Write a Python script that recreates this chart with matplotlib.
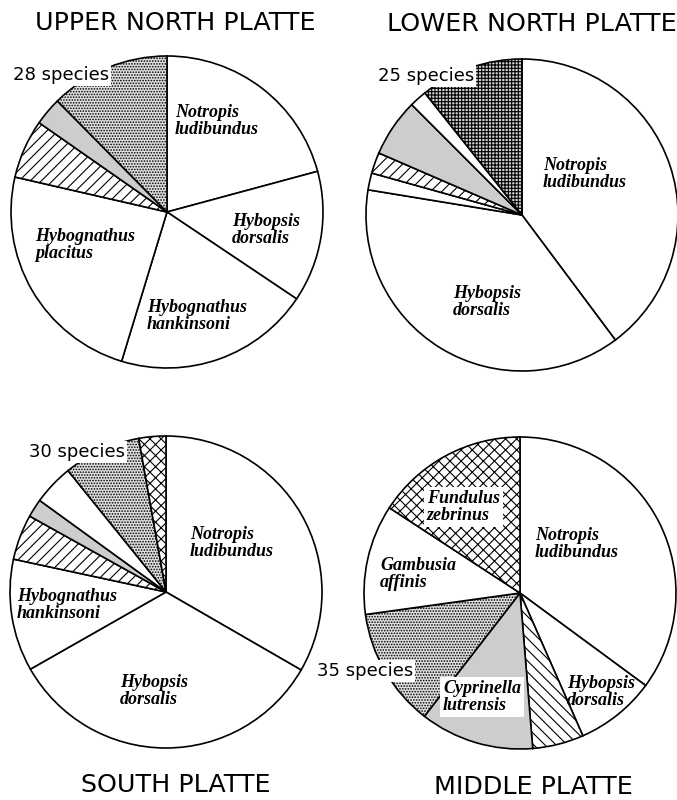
import matplotlib
matplotlib.use("Agg")
import matplotlib.pyplot as plt

# shares of the catch (percent), clockwise from 12 o'clock
upper_values = [20.8, 13.6, 20.3, 23.9, 6.1, 2.9, 12.4]
upper_fills = ["white", "white", "white", "white", "stripe", "gray", "dots"]
upper_names = ["Notropis\nludibundus", "Hybopsis\ndorsalis",
               "Hybognathus\nhankinsoni", "Hybognathus\nplacitus"]

lower_values = [39.8, 37.8, 1.75, 2.17, 6.0, 1.8, 10.7]
lower_fills = ["white", "white", "white", "stripe", "gray", "white", "grid"]
lower_names = ["Notropis\nludibundus", "Hybopsis\ndorsalis"]

south_values = [33.3, 33.4, 11.6, 4.7, 1.9, 4.2, 8.0, 2.8]
south_fills = ["white", "white", "white", "stripe", "gray", "white", "dots", "cross"]
south_names = ["Notropis\nludibundus", "Hybopsis\ndorsalis",
               "Hybognathus\nhankinsoni"]

middle_values = [35.1, 8.3, 5.3, 11.8, 12.3, 11.4, 15.8]
middle_fills = ["white", "white", "backstripe", "gray", "dots", "white", "cross"]
middle_names = ["Notropis\nludibundus", "Hybopsis\ndorsalis",
                "Cyprinella\nlutrensis", "Gambusia\naffinis",
                "Fundulus\nzebrinus"]

titles = ["UPPER NORTH PLATTE", "LOWER NORTH PLATTE", "SOUTH PLATTE", "MIDDLE PLATTE"]
species_counts = [28, 25, 30, 35]

STYLES = {
    "white": dict(facecolor="white", hatch=None),
    "stripe": dict(facecolor="white", hatch="///"),
    "backstripe": dict(facecolor="white", hatch="\\\\\\"),
    "gray": dict(facecolor="#cdcdcd", hatch=None),
    "dots": dict(facecolor="#e0e0e0", hatch="......"),
    "grid": dict(facecolor="#d0d0d0", hatch="+++++"),
    "cross": dict(facecolor="white", hatch="xxx"),
}

W, H = 677, 800
R = 156


def img(x, y):
    """Pixel position (from top-left) to data coords."""
    return x, H - y


def draw_pie(ax, values, fills, center):
    wedges, _ = ax.pie(values, startangle=90, counterclock=False,
                       center=img(*center), radius=R, frame=True,
                       wedgeprops=dict(edgecolor="black", linewidth=1.2))
    for w, f in zip(wedges, fills):
        w.set_facecolor(STYLES[f]["facecolor"])
        w.set_hatch(STYLES[f]["hatch"])
    return wedges


def name_label(ax, text, pos, box=False):
    kw = dict(ha="left", va="center", fontsize=13, family="Liberation Serif",
              weight="bold", style="italic", linespacing=1.0, zorder=5)
    if box:
        kw["bbox"] = dict(facecolor="white", edgecolor="none", pad=2)
    ax.text(*img(*pos), text, **kw)


def count_label(ax, n, pos):
    ax.text(*img(*pos), f"{n} species", ha="center", va="center",
            fontsize=13, family="DejaVu Sans", zorder=5,
            bbox=dict(facecolor="white", edgecolor="none", pad=1.5))


def main():
    plt.rcParams["hatch.linewidth"] = 0.8
    fig = plt.figure(figsize=(W / 100, H / 100), dpi=100)
    ax = fig.add_axes([0, 0, 1, 1])

    draw_pie(ax, upper_values, upper_fills, (167, 212))
    draw_pie(ax, lower_values, lower_fills, (522, 215))
    draw_pie(ax, south_values, south_fills, (166, 592))
    draw_pie(ax, middle_values, middle_fills, (520, 593))

    for t, p in zip(upper_names, [(175, 121), (232, 230), (147, 316), (35, 245)]):
        name_label(ax, t, p)
    for t, p in zip(lower_names, [(543, 174), (453, 302)]):
        name_label(ax, t, p)
    for t, p in zip(south_names, [(190, 543), (120, 691), (17, 605)]):
        name_label(ax, t, p)
    middle_pos = [(535, 544), (567, 692), (443, 697), (380, 574), (427, 507)]
    for t, p, b in zip(middle_names, middle_pos, [False, False, True, False, True]):
        name_label(ax, t, p, box=b)

    for n, p in zip(species_counts, [(61, 75), (426, 76), (77, 452), (365, 671)]):
        count_label(ax, n, p)

    for t, p in zip(titles, [(175, 23), (532, 24), (176, 785), (533, 787)]):
        ax.text(*img(*p), t, ha="center", va="center", fontsize=18.3,
                family="DejaVu Sans")

    ax.set_xlim(0, W)
    ax.set_ylim(0, H)
    ax.set_aspect("equal")
    ax.set_axis_off()
    fig.savefig("out.png", dpi=100, facecolor="white")
    plt.close(fig)


main()
